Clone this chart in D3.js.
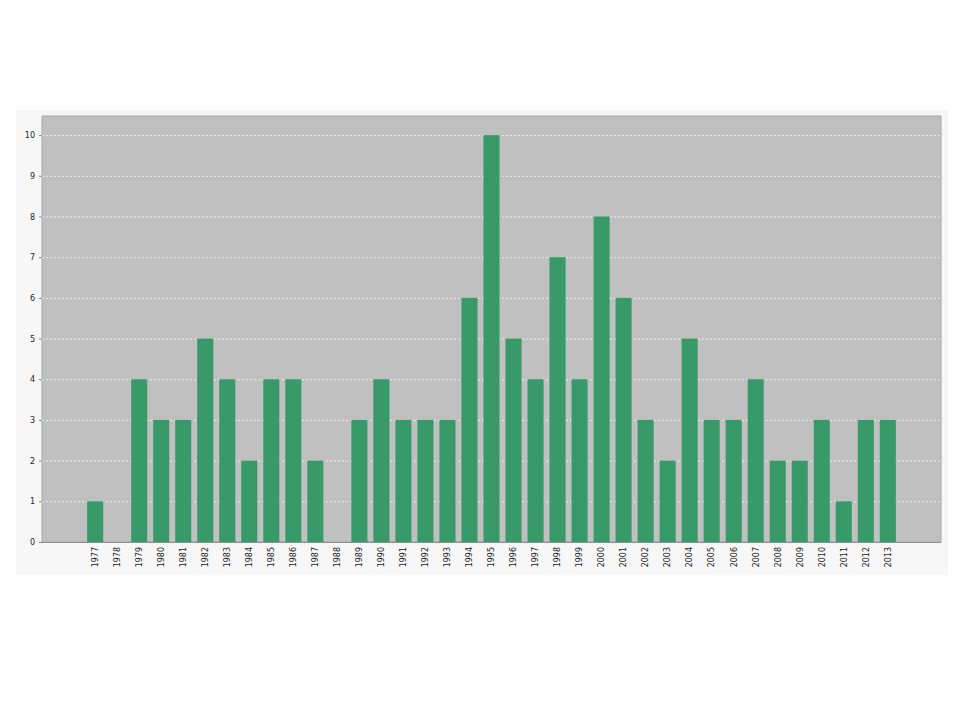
<!DOCTYPE html>
<html><head><meta charset="utf-8">
<script src="https://cdn.jsdelivr.net/npm/d3@7"></script>
<style>body{margin:0;background:#fff;}svg{display:block;}</style>
</head><body>
<svg id="chart" width="960" height="720"></svg>
<script>
const years = ["1977","1978","1979","1980","1981","1982","1983","1984","1985","1986","1987","1988","1989","1990","1991","1992","1993","1994","1995","1996","1997","1998","1999","2000","2001","2002","2003","2004","2005","2006","2007","2008","2009","2010","2011","2012","2013"];
const counts = [1,0,4,3,3,5,4,2,4,4,2,0,3,4,3,3,3,6,10,5,4,7,4,8,6,3,2,5,3,3,4,2,2,3,1,3,3];
const yTicks = [0,1,2,3,4,5,6,7,8,9,10];

const svg = d3.select("#chart");
const panel = {x:16, y:110, w:932, h:465};
const plot = {l:42, t:116, r:941, b:542};

svg.append("rect").attr("x",panel.x).attr("y",panel.y).attr("width",panel.w).attr("height",panel.h).attr("fill","#f7f7f7");
svg.append("rect").attr("x",plot.l).attr("y",plot.t).attr("width",plot.r-plot.l).attr("height",plot.b-plot.t)
  .attr("fill","#c0c0c0").attr("stroke","#a8a8a8").attr("stroke-width",1);

const x = d3.scaleBand().domain(years).range([plot.l, plot.r]).paddingInner(0.27).paddingOuter(2.05);
const y = d3.scaleLinear().domain([0, 10.47]).range([plot.b, plot.t]);

// grid
svg.append("g").selectAll("line").data(yTicks.filter(d=>d>0)).join("line")
  .attr("x1",plot.l).attr("x2",plot.r).attr("y1",d=>y(d)+0.5).attr("y2",d=>y(d)+0.5)
  .attr("stroke","#ececec").attr("stroke-width",1).attr("stroke-dasharray","2,2");

// bars
svg.append("g").selectAll("rect").data(years).join("rect")
  .attr("x",d=>x(d)).attr("width",x.bandwidth())
  .attr("y",(d,i)=>y(counts[i])).attr("height",(d,i)=>plot.b-y(counts[i]))
  .attr("fill","#399a69");

// y axis
const ya = svg.append("g").attr("transform",`translate(${plot.l},0)`)
  .call(d3.axisLeft(y).tickValues(yTicks).tickSize(3).tickPadding(4).tickFormat(d3.format("d")));
ya.select(".domain").remove();
ya.selectAll("line").attr("stroke","#888");
ya.selectAll("text").attr("font-family","DejaVu Sans").attr("font-size","8px").attr("fill","#222");

// x axis
const xa = svg.append("g").attr("transform",`translate(0,${plot.b})`)
  .call(d3.axisBottom(x).tickSize(0).tickPadding(4));
xa.select(".domain").attr("stroke","#909090").attr("d",`M${plot.l},0.5H${plot.r}`);
xa.selectAll("text").attr("font-family","DejaVu Sans").attr("font-size","8px").attr("fill","#222")
  .attr("transform","rotate(-90)").attr("text-anchor","end").attr("dx","-5px").attr("dy","0.35em").attr("y",0).attr("x",0);
</script>
</body></html>
